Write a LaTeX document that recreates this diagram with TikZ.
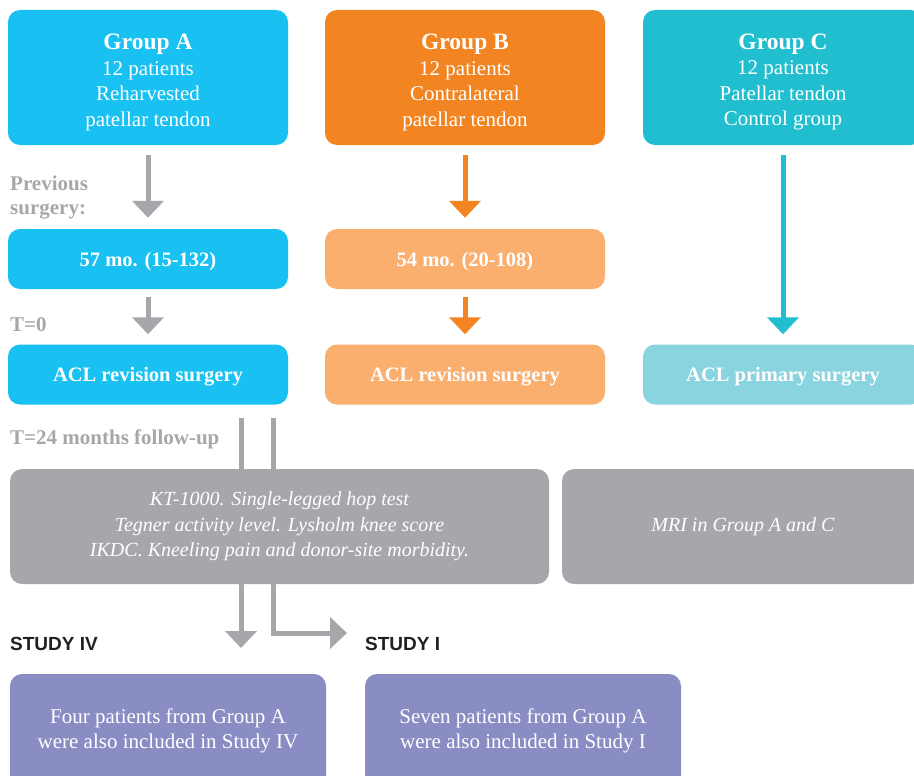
\documentclass[tikz,border=0pt]{standalone}
\usepackage{fontspec}
\setmainfont{Liberation Serif}
\setsansfont{Liberation Sans}
\usepackage{tikz}
\usetikzlibrary{positioning,arrows.meta}

\definecolor{grpA}{HTML}{18C1F1}
\definecolor{grpB}{HTML}{F28522}
\definecolor{grpC}{HTML}{20BECE}
\definecolor{lightB}{HTML}{FBAF6F}
\definecolor{lightC}{HTML}{8AD4E0}
\definecolor{infogray}{HTML}{A6A7AA}
\definecolor{labelgray}{HTML}{A6A7AA}
\definecolor{studypurple}{HTML}{8A8DC4}
\definecolor{studyblack}{HTML}{231F20}

\newcommand{\grptitle}[1]{{\fontsize{23.5}{25.5}\selectfont\bfseries\rule{0pt}{25pt}#1}}

\tikzset{
	grpbox/.style={rounded corners=12pt, text=white, align=center, inner sep=0pt, minimum width=280pt, font=\fontsize{21}{25.5}\selectfont},
	midbox/.style={grpbox, minimum height=60pt, text height=14pt, text depth=0pt, font=\fontsize{20.5}{23}\selectfont\bfseries},
	infobox/.style={grpbox, fill=infogray, minimum height=115pt, font=\fontsize{20}{25.5}\selectfont\itshape},
	studybox/.style={grpbox, fill=studypurple, minimum width=316pt, minimum height=114pt},
	sidelabel/.style={anchor=west, inner sep=0pt, align=left, text=labelgray, font=\fontsize{21}{24}\selectfont\bfseries},
	studylabel/.style={anchor=west, inner sep=0pt, text=studyblack, font=\sffamily\bfseries\fontsize{19}{22}\selectfont},
	flow/.style={line width=5pt, -{Triangle[width=31pt,length=17pt]}},
}

\begin{document}
\begin{tikzpicture}[x=1pt,y=-1pt]
	\useasboundingbox (0,0) rectangle (914,776);

	\node[grpbox, fill=grpA, minimum height=135pt] (grpA) at (148,77.5) {\grptitle{Group A}\\12 patients\\Reharvested\\patellar tendon};
	\node[grpbox, fill=grpB, minimum height=135pt] (grpB) at (465,77.5) {\grptitle{Group B}\\12 patients\\Contralateral\\patellar tendon};
	\node[grpbox, fill=grpC, minimum height=135pt] (grpC) at (783,77.5) {\grptitle{Group C}\\12 patients\\Patellar tendon\\Control group};

	\node[midbox, fill=grpA] (moA) at (148,259) {57 mo. (15-132)};
	\node[midbox, fill=lightB] (moB) at (465,259) {54 mo. (20-108)};

	\node[midbox, fill=grpA] (revA) at (148,374.5) {ACL revision surgery};
	\node[midbox, fill=lightB] (revB) at (465,374.5) {ACL revision surgery};
	\node[midbox, fill=lightC] (revC) at (783,374.5) {ACL primary surgery};

	\node[sidelabel] (prev) at (10,198) {Previous\\surgery:};
	\node[sidelabel] (tzero) at (10,325) {T=0};
	\node[sidelabel] (tfollow) at (10,439) {T=24 months follow-up};

	\draw[flow, draw=infogray, shorten <=10pt, shorten >=11pt] (grpA) -- (moA);
	\draw[flow, draw=grpB, shorten <=10pt, shorten >=11pt] (grpB) -- (moB);
	\draw[flow, draw=infogray, shorten <=8pt, shorten >=10pt] (moA) -- (revA);
	\draw[flow, draw=grpB, shorten <=8pt, shorten >=10pt] (moB) -- (revB);
	\draw[flow, draw=grpC, shorten <=10pt, shorten >=10pt] (grpC) -- (revC);

	\coordinate (toIV) at (241,648);
	\coordinate (toI) at (347,633);
	\draw[flow, draw=infogray, shorten <=13pt] ([xshift=93pt]revA.south) -- (toIV);
	\draw[flow, draw=infogray, shorten <=13pt] ([xshift=125pt]revA.south) |- (toI);

	\node[infobox, minimum width=539pt] (tests) at (279.5,526.5) {KT-1000. Single-legged hop test\\Tegner activity level. Lysholm knee score\\IKDC. Kneeling pain and donor-site morbidity.};
	\node[infobox, minimum width=362pt] (mri) at (743,526.5) {MRI in Group A and C};

	\node[studylabel] (labIV) at (10,644) {STUDY IV};
	\node[studylabel] (labI) at (365,644) {STUDY I};

	\node[studybox] (studyIV) at (168,731) {Four patients from Group A\\were also included in Study IV};
	\node[studybox] (studyI) at (523,731) {Seven patients from Group A\\were also included in Study I};
\end{tikzpicture}
\end{document}
